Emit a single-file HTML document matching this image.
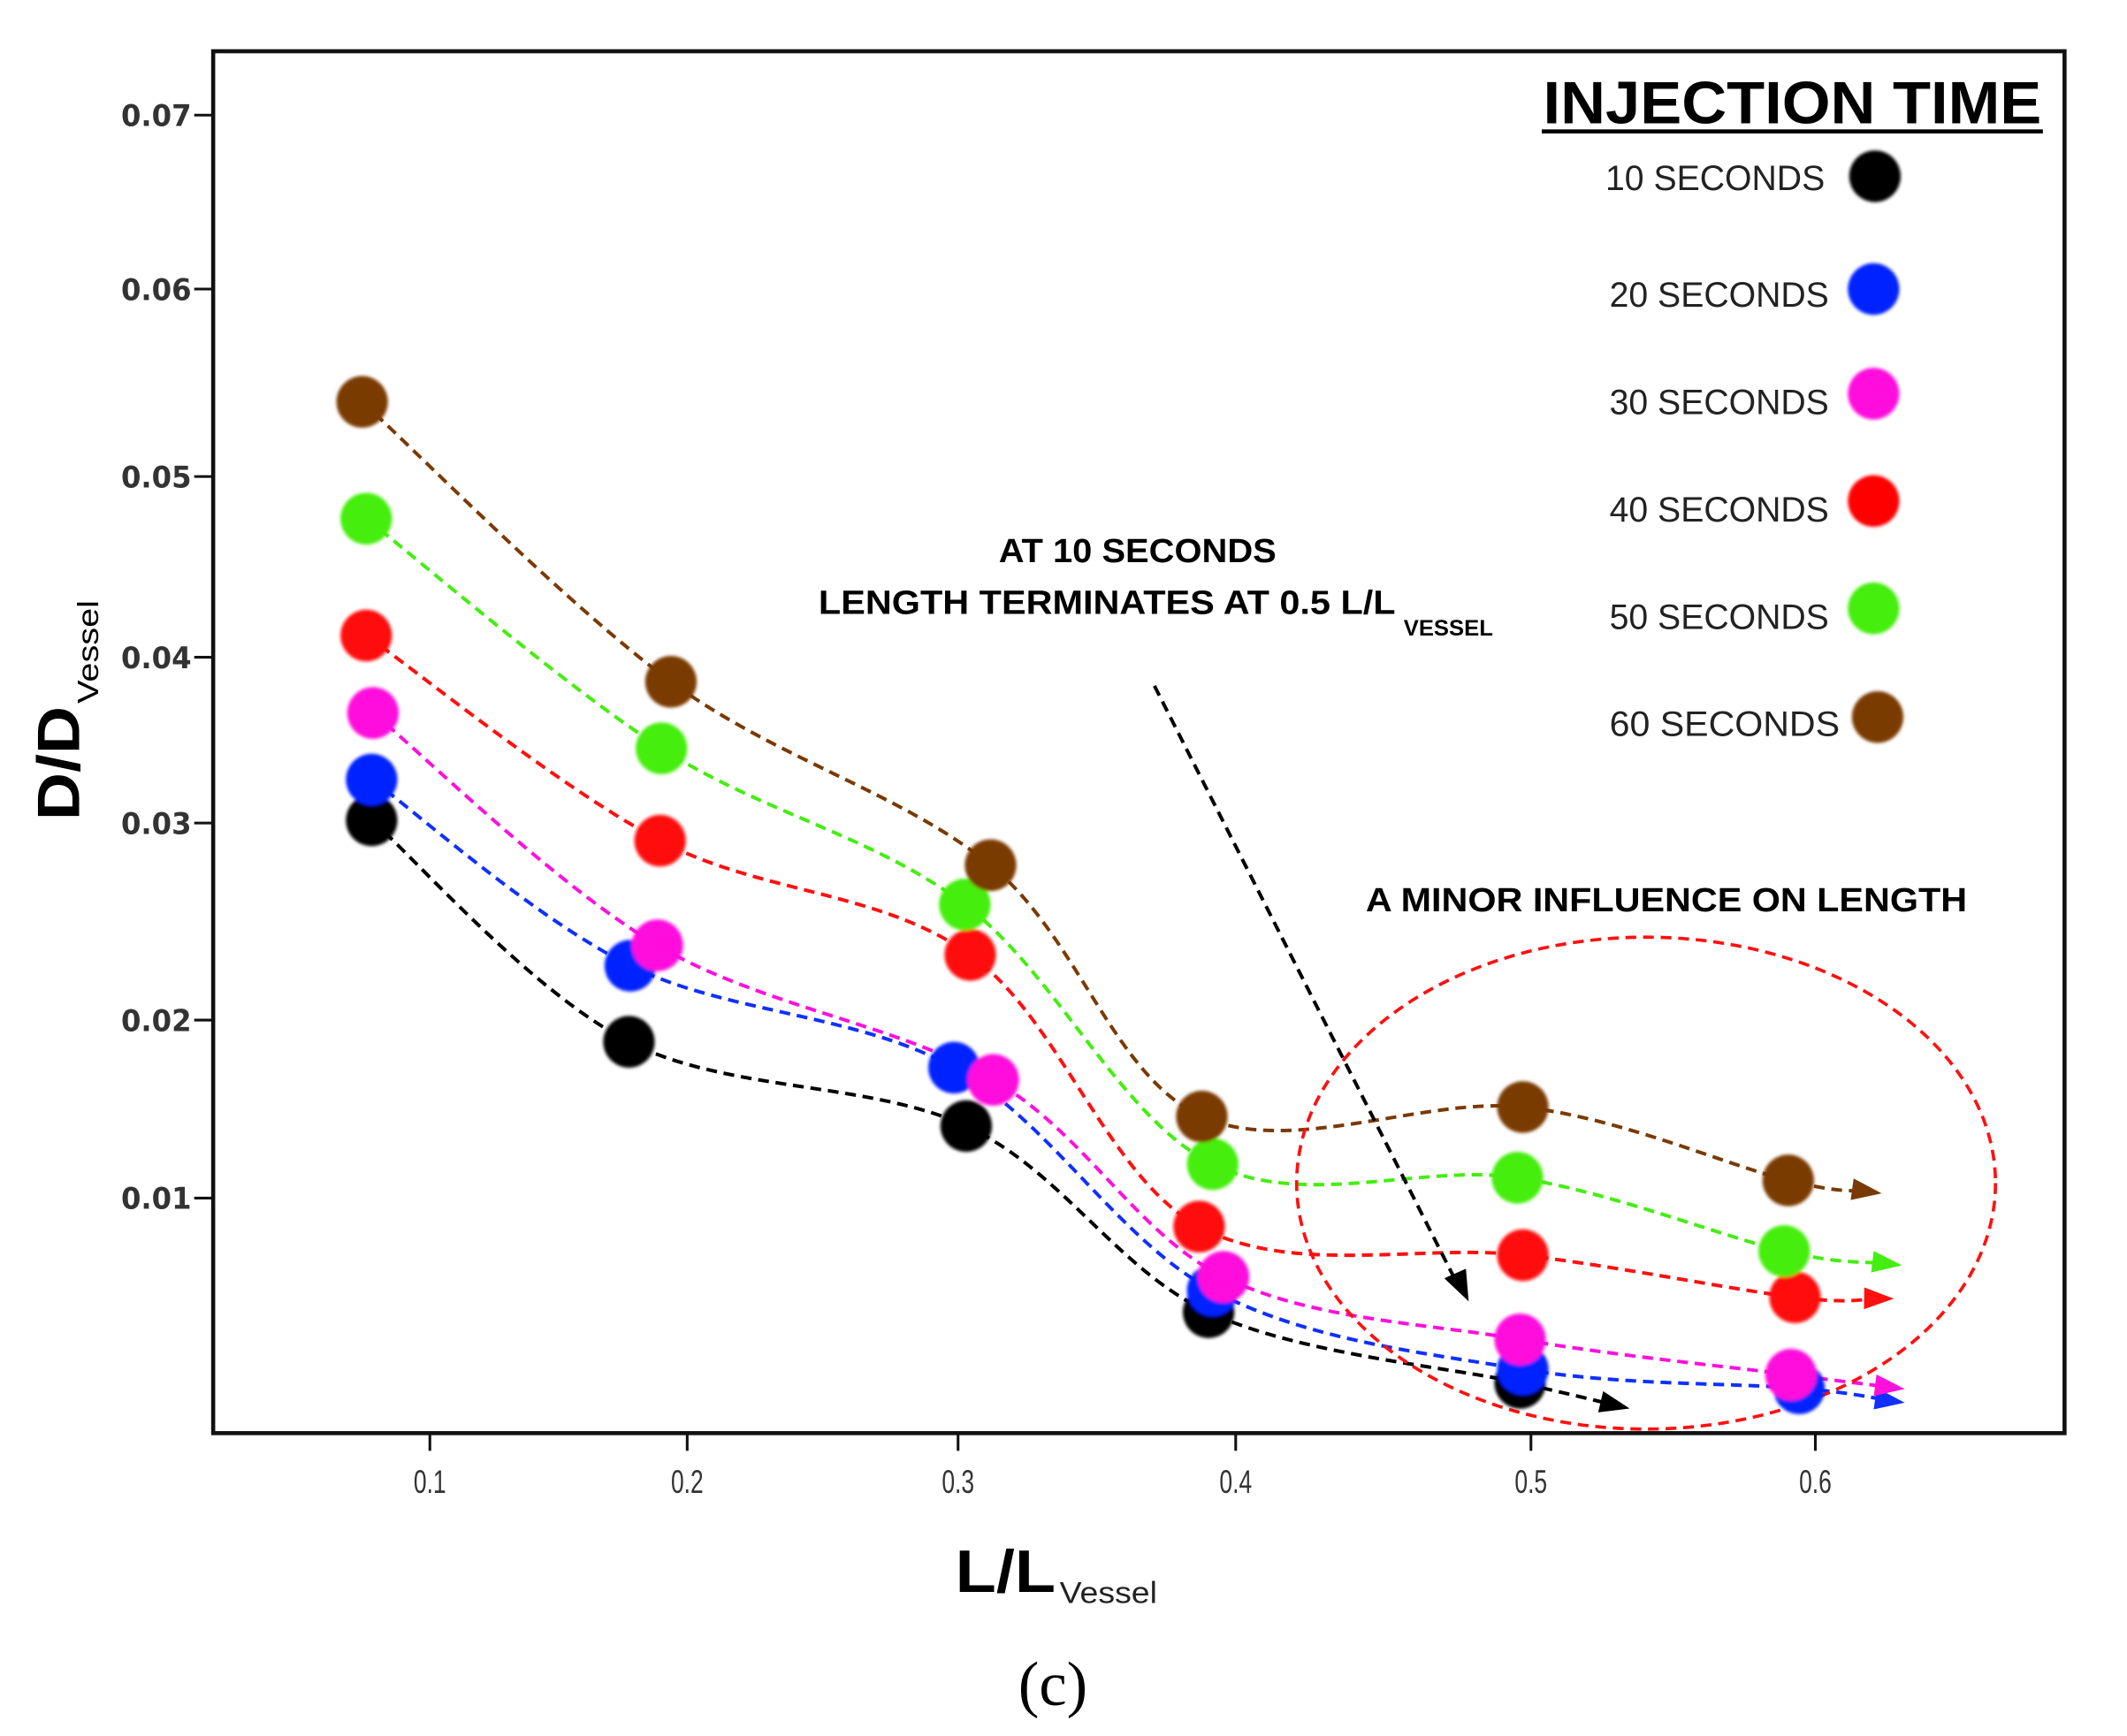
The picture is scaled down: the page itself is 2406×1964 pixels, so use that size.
<!DOCTYPE html>
<html><head><meta charset="utf-8"><style>
html,body{margin:0;padding:0;background:#fff}
svg{display:block}
</style></head><body>
<svg id="s" width="2406" height="1964" viewBox="0 0 1552 1267" xmlns="http://www.w3.org/2000/svg">
<defs>
<filter id="b" x="-30%" y="-30%" width="160%" height="160%"><feGaussianBlur stdDeviation="1.2"/></filter>
</defs>
<rect width="1552" height="1267" fill="#fff"/>
<g transform="translate(2.31,-0.28) scale(0.9883,0.9917)">
<g id="curves" fill="none" stroke-width="2.6" stroke-dasharray="8,5"></g>
<ellipse cx="1213" cy="871" rx="258" ry="181" fill="none" stroke="#ff1010" stroke-width="2.4" stroke-dasharray="8,5"/>
<line x1="850" y1="505" x2="1072" y2="942" stroke="#000" stroke-width="2.6" stroke-dasharray="8,5"/>
<polygon points="1082,958 1064,941 1080,934" fill="#000"/>
<g id="marks" filter="url(#b)"></g>
<rect x="155" y="38" width="1367" height="1017" fill="none" stroke="#111" stroke-width="3"/>
<g stroke="#111" stroke-width="2">
<line x1="141" y1="85" x2="155" y2="85"/><line x1="141" y1="213" x2="155" y2="213"/><line x1="141" y1="351" x2="155" y2="351"/><line x1="141" y1="484" x2="155" y2="484"/><line x1="141" y1="606" x2="155" y2="606"/><line x1="141" y1="751" x2="155" y2="751"/><line x1="141" y1="882" x2="155" y2="882"/>
<line x1="315" y1="1055" x2="315" y2="1068"/><line x1="505" y1="1055" x2="505" y2="1068"/><line x1="705" y1="1055" x2="705" y2="1068"/><line x1="910" y1="1055" x2="910" y2="1068"/><line x1="1128" y1="1055" x2="1128" y2="1068"/><line x1="1338" y1="1055" x2="1338" y2="1068"/>
</g>
<g font-family="DejaVu Sans, sans-serif" font-size="22" fill="#333" text-anchor="end" font-weight="bold">
<text x="139" y="93" textLength="52" lengthAdjust="spacingAndGlyphs">0.07</text><text x="139" y="221" textLength="52" lengthAdjust="spacingAndGlyphs">0.06</text><text x="139" y="359" textLength="52" lengthAdjust="spacingAndGlyphs">0.05</text><text x="139" y="492" textLength="52" lengthAdjust="spacingAndGlyphs">0.04</text><text x="139" y="614" textLength="52" lengthAdjust="spacingAndGlyphs">0.03</text><text x="139" y="759" textLength="52" lengthAdjust="spacingAndGlyphs">0.02</text><text x="139" y="890" textLength="52" lengthAdjust="spacingAndGlyphs">0.01</text>
</g>
<g font-family="Liberation Sans, sans-serif" font-size="24" fill="#333" text-anchor="middle">
<text x="315" y="1099" textLength="24" lengthAdjust="spacingAndGlyphs">0.1</text><text x="505" y="1099" textLength="24" lengthAdjust="spacingAndGlyphs">0.2</text><text x="705" y="1099" textLength="24" lengthAdjust="spacingAndGlyphs">0.3</text><text x="910" y="1099" textLength="24" lengthAdjust="spacingAndGlyphs">0.4</text><text x="1128" y="1099" textLength="24" lengthAdjust="spacingAndGlyphs">0.5</text><text x="1338" y="1099" textLength="24" lengthAdjust="spacingAndGlyphs">0.6</text>
</g>
<g font-family="Liberation Sans, sans-serif" font-weight="bold" fill="#000">
<text x="703" y="1172" font-size="44" textLength="74" lengthAdjust="spacingAndGlyphs">L/L</text>
<text x="780" y="1180" font-size="22" font-weight="normal" fill="#222" textLength="72" lengthAdjust="spacingAndGlyphs">Vessel</text>
<g transform="translate(56,604) rotate(-90)">
<text x="0" y="0" font-size="44" textLength="84" lengthAdjust="spacingAndGlyphs">D/D</text>
<text x="86" y="14" font-size="22" font-weight="normal" textLength="76" lengthAdjust="spacingAndGlyphs">Vessel</text>
</g>
<text x="1137" y="91" font-size="44" textLength="368" lengthAdjust="spacingAndGlyphs">INJECTION TIME</text>
<text x="602" y="452" font-size="25" textLength="426" lengthAdjust="spacingAndGlyphs">LENGTH TERMINATES AT 0.5 L/L</text>
<text x="735" y="414" font-size="25" textLength="205" lengthAdjust="spacingAndGlyphs">AT 10 SECONDS</text>
<text x="1034" y="468" font-size="16" textLength="66" lengthAdjust="spacingAndGlyphs">VESSEL</text>
<text x="1006" y="671" font-size="25" textLength="444" lengthAdjust="spacingAndGlyphs">A MINOR INFLUENCE ON LENGTH</text>
</g>
<line x1="1136" y1="97" x2="1506" y2="97" stroke="#000" stroke-width="3"/>
<g font-family="Liberation Sans, sans-serif" font-size="26" fill="#222">
<text x="1183" y="140" textLength="162" lengthAdjust="spacingAndGlyphs">10 SECONDS</text>
<text x="1186" y="226" textLength="162" lengthAdjust="spacingAndGlyphs">20 SECONDS</text>
<text x="1186" y="305" textLength="162" lengthAdjust="spacingAndGlyphs">30 SECONDS</text>
<text x="1186" y="384" textLength="162" lengthAdjust="spacingAndGlyphs">40 SECONDS</text>
<text x="1186" y="463" textLength="162" lengthAdjust="spacingAndGlyphs">50 SECONDS</text>
<text x="1186" y="542" textLength="170" lengthAdjust="spacingAndGlyphs">60  SECONDS</text>
</g>
<g filter="url(#b)">
<circle cx="1382" cy="130" r="19" fill="#000"/>
<circle cx="1381" cy="213" r="19" fill="#0022ff"/>
<circle cx="1381" cy="290" r="19" fill="#ff10dd"/>
<circle cx="1381" cy="369" r="19" fill="#ff0000"/>
<circle cx="1381" cy="448" r="19" fill="#44ee11"/>
<circle cx="1384" cy="528" r="19" fill="#7a3a05"/>
</g>
<text x="775" y="1255" font-family="Liberation Serif, serif" font-size="46" text-anchor="middle" fill="#000">(c)</text>
</g>
</svg>
<script>
var S=[
["#000",[[272,604],[462,767],[711,829],[890,966],[1120,1018]],[1197,1036]],
["#1030ff",[[272,574],[463,711],[702,786],[893,950],[1122,1008],[1326,1022]],[1400,1032]],
["#ff10dd",[[273,525],[483,696],[731,795],[901,940],[1120,986],[1320,1012]],[1400,1022]],
["#ff1010",[[268,468],[485,619],[714,703],[883,903],[1122,924],[1323,955]],[1392,956]],
["#44ee11",[[268,382],[486,551],[710,666],[893,857],[1118,867],[1315,921]],[1398,931]],
["#7a3a05",[[265,296],[493,502],[729,637],[885,822],[1122,815],[1318,869]],[1383,878]]
];
var ns="http://www.w3.org/2000/svg",C=document.getElementById("curves"),M=document.getElementById("marks");
S.forEach(function(s){
 var p=s[1].slice();p.push(s[2]);
 var d="M"+p[0][0]+","+p[0][1];
 for(var i=0;i<p.length-1;i++){
  var p0=p[i-1]||p[i],p1=p[i],p2=p[i+1],p3=p[i+2]||p2;
  var c1=[p1[0]+(p2[0]-p0[0])/6,p1[1]+(p2[1]-p0[1])/6],c2=[p2[0]-(p3[0]-p1[0])/6,p2[1]-(p3[1]-p1[1])/6];
  if(i==p.length-2)c2=[p2[0]-(p2[0]-p1[0])/3,p2[1]-(p2[1]-p1[1])/3];
  d+=" C"+c1+" "+c2+" "+p2;
 }
 var e=document.createElementNS(ns,"path");e.setAttribute("d",d);e.setAttribute("stroke",s[0]);C.appendChild(e);
 var a=p[p.length-2],b=s[2],ang=Math.atan2(b[1]-a[1],b[0]-a[0]);
 var L=18,W=8,bx=b[0]-L*Math.cos(ang),by=b[1]-L*Math.sin(ang);
 var t=document.createElementNS(ns,"polygon");
 t.setAttribute("points",(b[0]+4*Math.cos(ang))+","+(b[1]+4*Math.sin(ang))+" "+(bx-W*Math.sin(ang))+","+(by+W*Math.cos(ang))+" "+(bx+W*Math.sin(ang))+","+(by-W*Math.cos(ang)));
 t.setAttribute("fill",s[0]);C.parentNode.insertBefore(t,M);
 s[1].forEach(function(q){var c=document.createElementNS(ns,"circle");c.setAttribute("cx",q[0]);c.setAttribute("cy",q[1]);c.setAttribute("r",19);c.setAttribute("fill",s[0]=="#1030ff"?"#0022ff":s[0]);M.appendChild(c);});
});
</script>
</body></html>
